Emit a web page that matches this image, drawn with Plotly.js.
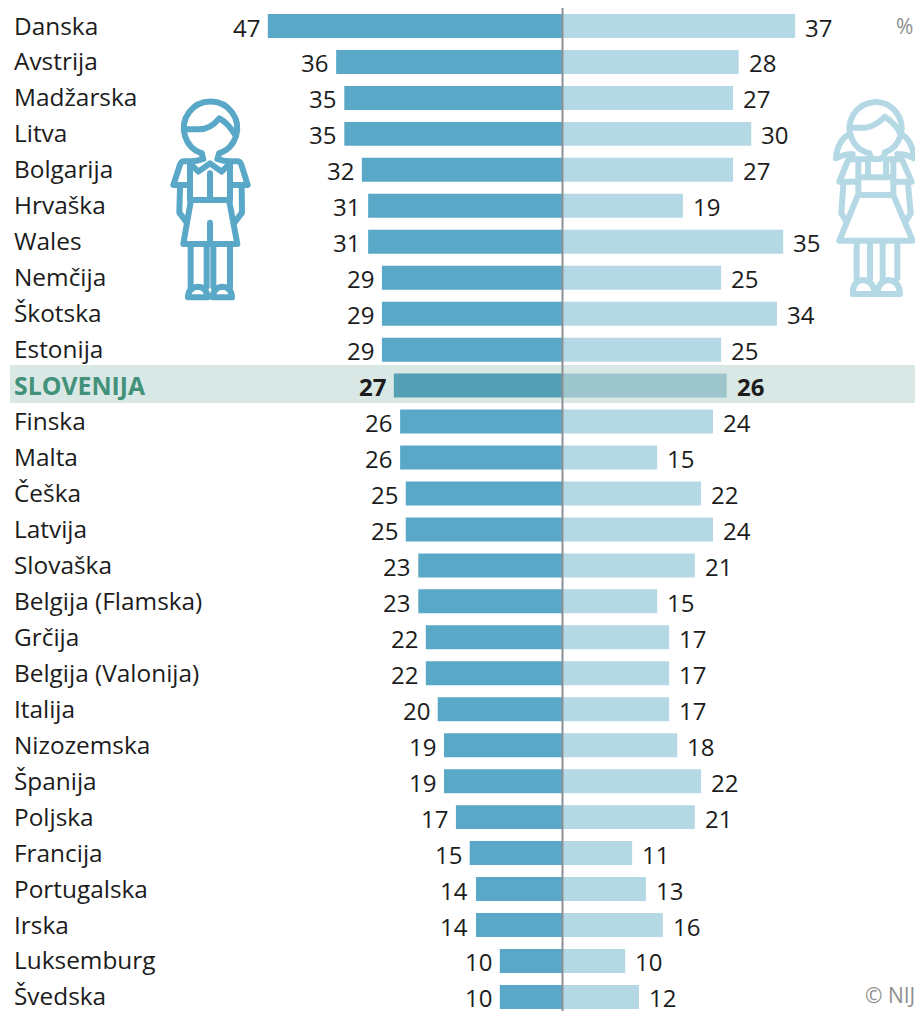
<!DOCTYPE html>
<html><head><meta charset="utf-8">
<script src="https://cdn.plot.ly/plotly-3.0.1.min.js"></script>
<style>html,body{margin:0;padding:0;background:#fff;overflow:hidden}</style>
</head><body><div id="chart" style="width:915px;height:1011px"></div>
<script>
const countries = ["Danska","Avstrija","Madžarska","Litva","Bolgarija","Hrvaška","Wales","Nemčija","Škotska","Estonija","SLOVENIJA","Finska","Malta","Češka","Latvija","Slovaška","Belgija (Flamska)","Grčija","Belgija (Valonija)","Italija","Nizozemska","Španija","Poljska","Francija","Portugalska","Irska","Luksemburg","Švedska"];
const boys = [47.0,36.1,34.8,34.8,32.0,31.0,31.0,28.8,28.8,28.8,26.9,25.9,25.9,25.0,25.0,23.0,23.0,21.8,21.8,19.9,18.9,18.9,17.0,14.8,13.8,13.8,10.0,10.0];
const girls = [37.1,28.1,27.2,30.1,27.2,19.2,35.2,25.3,34.2,25.3,26.2,24.0,15.1,22.1,24.0,21.1,15.1,17.0,17.0,17.0,18.3,22.1,21.1,11.1,13.3,16.0,10.0,12.2];
const highlight = "SLOVENIJA";
const F = '"Open Sans", sans-serif';
const TXT = '#1c1c1c', BOY = '#5AA8C7', GIRL = '#B5D8E5', BOY_H = '#559FB5', GIRL_H = '#9CC6CB';
const CAT_SIZE = 24.4, VAL_SIZE = 24;

const svg = (w,h,color,body) => 'data:image/svg+xml;charset=utf-8,' + encodeURIComponent(
 `<svg xmlns="http://www.w3.org/2000/svg" width="${w}" height="${h}" viewBox="0 0 ${w} ${h}"><g fill="none" stroke="${color}" stroke-width="18" stroke-linejoin="round" stroke-linecap="round">${body}</g></svg>`);

const boyIcon = svg(300,660,BOY,`
<path d="M125 190 A80 80 0 1 1 178 190"/>
<path d="M80 118 H118 Q150 118 178 85 Q205 100 222 130"/>
<path d="M125 190 L130 207 Q110 214 92 214 H72 Q64 214 60 224 L40 285 H85 M178 190 L172 207 Q190 214 210 214 H232 Q240 214 244 224 L263 285 H220"/>
<path d="M92 222 L115 245 L150 220 L185 245 L208 222 M90 222 V328 M210 222 V328 M150 250 V328 M90 330 H210"/>
<path d="M60 292 L58 368 L80 397 M245 292 L246 368 L224 397"/>
<path d="M92 335 L70 462 H232 L208 335 M150 398 V462"/>
<path d="M92 465 V590 M140 465 V590 M160 465 V590 M210 465 V590"/>
<path d="M84 622 Q85 592 112 590 Q140 590 143 622 Z M158 622 Q160 592 186 590 Q214 590 216 622 Z"/>`);

const girlIcon = svg(300,930,GIRL,`
<path d="M148 460 A78 78 0 1 1 195 457"/>
<path d="M90 383 H135 Q165 380 195 350 Q225 370 240 398"/>
<path d="M88 402 Q52 422 48 475 Q72 462 98 462 M244 402 Q278 422 282 475 Q258 462 232 462"/>
<path d="M148 460 Q150 478 171 478 Q192 478 195 457"/>
<path d="M148 478 H92 Q85 478 82 486 L58 545 H105 M195 478 H240 Q246 478 249 486 L275 545 H225"/>
<path d="M115 486 V585 M220 486 V585 M144 490 V532 M198 490 V532 M115 532 H220 M115 585 H220"/>
<path d="M70 552 L64 640 L78 662 M264 552 L272 640 L258 662"/>
<path d="M112 590 L58 722 H278 L222 590"/>
<path d="M110 725 V835 M150 725 V835 M188 725 V835 M232 725 V835"/>
<path d="M98 882 Q98 842 130 840 Q160 842 165 882 Z M172 882 Q175 842 205 840 Q238 842 240 882 Z"/>`);

const rows = countries.map((_,i)=>i);
const annotations = [];
countries.forEach((c,i)=>{
  const hi = c===highlight;
  annotations.push({xref:'paper',yref:'y',x:12/915,y:i,xanchor:'left',yanchor:'middle',yshift:1,showarrow:false,text:hi?'<b>'+c+'</b>':c,
    font:{family:F,size:hi?24.8:CAT_SIZE,color:hi?'#42917A':TXT}});
  annotations.push({xref:'x',yref:'y',x:-boys[i],y:i,xanchor:'right',yanchor:'middle',xshift:-6,yshift:-1,showarrow:false,text:(hi?'<b>':'')+Math.round(boys[i])+(hi?'</b>':''),
    font:{family:F,size:VAL_SIZE,color:TXT}});
  annotations.push({xref:'x',yref:'y',x:girls[i],y:i,xanchor:'left',yanchor:'middle',xshift:8,yshift:-1,showarrow:false,text:(hi?'<b>':'')+Math.round(girls[i])+(hi?'</b>':''),
    font:{family:F,size:VAL_SIZE,color:TXT}});
});
annotations.push({xref:'paper',yref:'paper',x:1,y:1-26/1011,xanchor:'right',yanchor:'middle',showarrow:false,text:'%',font:{family:F,size:21,color:'#8f8f8f'}});
annotations.push({xref:'paper',yref:'paper',x:1.002,y:1-995/1011,xanchor:'right',yanchor:'middle',showarrow:false,text:'© NIJ',font:{family:F,size:21,color:'#8f8f8f'}});

const hiIdx = countries.indexOf(highlight);
const traces = [
 {type:'bar',orientation:'h',y:rows,x:boys.map(v=>-v),width:0.667,marker:{color:countries.map(c=>c===highlight?BOY_H:BOY),line:{width:0}},hoverinfo:'skip',name:'Fantje'},
 {type:'bar',orientation:'h',y:rows,x:girls,width:0.667,marker:{color:countries.map(c=>c===highlight?GIRL_H:GIRL),line:{width:0}},hoverinfo:'skip',name:'Dekleta'}
];
const layout = {
 width:915,height:1011,margin:{l:0,r:0,t:0,b:0},paper_bgcolor:'#fff',plot_bgcolor:'rgba(0,0,0,0)',
 barmode:'overlay',showlegend:false,
 xaxis:{range:[-562.5/6.27,352.5/6.27],visible:false,fixedrange:true},
 yaxis:{range:[(1011-26)/35.96,-26/35.96],visible:false,fixedrange:true},
 shapes:[
  {type:'rect',layer:'below',xref:'paper',yref:'y',x0:10/915,x1:1,y0:hiIdx-0.573,y1:hiIdx+0.484,fillcolor:'#D9E8E5',line:{width:0}},
  {type:'line',layer:'above',xref:'x',yref:'paper',x0:0,x1:0,y0:0,y1:1-8/1011,line:{color:'#8B9095',width:2}}
 ],
 images:[
  {source:boyIcon,xref:'paper',yref:'paper',x:160/915,y:1-90/1011,sizex:100/915,sizey:220/1011,xanchor:'left',yanchor:'top',sizing:'stretch',layer:'below'},
  {source:girlIcon,xref:'paper',yref:'paper',x:820/915,y:1,sizex:100/915,sizey:310/1011,xanchor:'left',yanchor:'top',sizing:'stretch',layer:'below'}
 ],
 annotations
};
Plotly.newPlot('chart',traces,layout,{staticPlot:true,displayModeBar:false});
</script></body></html>
